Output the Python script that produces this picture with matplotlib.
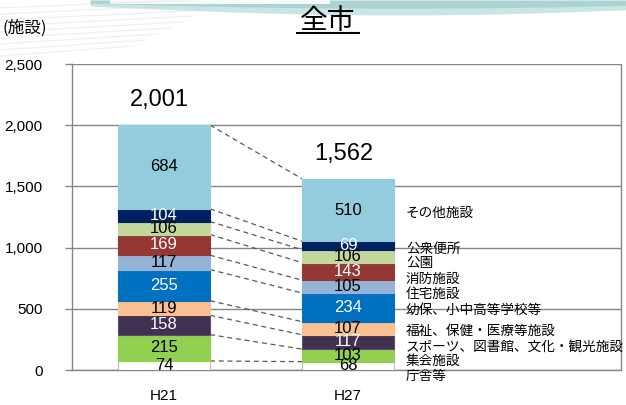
import numpy as np
import matplotlib.pyplot as plt

plt.rcParams['font.family'] = ['Noto Sans CJK JP', 'DejaVu Sans']

years = ['H21', 'H27']
categories = ['庁舎等', '集会施設', 'スポーツ、図書館、文化・観光施設', '福祉、保健・医療等施設',
              '幼保、小中高等学校等', '住宅施設', '消防施設', '公園', '公衆便所', 'その他施設']
h21 = [74, 215, 158, 119, 255, 117, 169, 106, 104, 684]
h27 = [68, 103, 117, 107, 234, 105, 143, 106, 69, 510]

colors = ['#FFFFFF', '#92D050', '#403151', '#FAC090', '#0070C0',
          '#95B3D7', '#953735', '#C3D69B', '#002060', '#93CDDD']
edges = ['#BFBFBF', '#92D050', '#5F497A', '#FAC090', '#0070C0',
         '#95B3D7', '#953735', '#C3D69B', '#002060', '#93CDDD']
text_colors = ['black', 'black', 'white', 'black', 'white',
               'black', 'white', 'black', 'white', 'black']

fig = plt.figure(figsize=(6.26, 4.05), dpi=100)

# decorative header swoosh
bg = fig.add_axes([0, 0, 1, 1], zorder=-1)
bg.set_xlim(0, 626)
bg.set_ylim(405, 0)
bg.axis('off')
xs = np.linspace(90, 626, 200)
band = 6 + 9 * np.sin(np.pi * (xs - 90) / 620)
bg.fill_between(xs, 0, band, color='#4FA9A6', alpha=0.3, lw=0)
bg.fill_between(xs, 0, band * 0.55, color='#2E8E8C', alpha=0.2, lw=0)
bg.fill_between(np.linspace(110, 330, 50), 0, 4, color='white', alpha=0.9, lw=0)
for k in range(9):
    y0 = 8 + k * 6
    bg.plot([0, 230 - k * 12], [y0, y0 - 10], color='#D0D0D0', lw=1.0, alpha=0.3)

ax = fig.add_axes([72 / 626, 35 / 405, 549 / 626, 306 / 405])
ax.set_facecolor('white')

xpos = [1, 3]
width = 1.0
data = np.array([h21, h27])
bottoms = np.zeros(2)
tops = []
for i, cat in enumerate(categories):
    vals = data[:, i]
    ax.bar(xpos, vals, width, bottom=bottoms, color=colors[i],
           edgecolor=edges[i], linewidth=0.8, zorder=3)
    for x, v, b in zip(xpos, vals, bottoms):
        ax.text(x, b + v / 2, str(v), ha='center', va='center',
                fontsize=12, color=text_colors[i], family=['Liberation Sans'], zorder=5)
    bottoms = bottoms + vals
    tops.append(bottoms.copy())

# dashed connectors between segment tops
for t in tops:
    ax.plot([xpos[0] + width / 2, xpos[1] - width / 2], [t[0], t[1]],
            ls=(0, (4, 3)), color='#595959', lw=0.9, zorder=2)

# totals above the bars
for x, total in zip(xpos, bottoms):
    ax.annotate(f'{int(total):,}', (x, total), xytext=(-3, 18),
                textcoords='offset points', ha='center', va='center',
                fontsize=17, family=['Liberation Sans'])

# category names beside the H27 bar, pushed down so they don't pile up
px = 306 / 2500
cum = np.cumsum([0] + h27)
mids = (cum[:-1] + cum[1:]) / 2
ys = [None] * len(categories)
y_prev = None
for i in range(len(categories) - 1, -1, -1):
    y = mids[i] - 3 / px
    if y_prev is not None:
        y = min(y, y_prev - 15 / px)
    ys[i] = y
    y_prev = y
for name, y in zip(categories, ys):
    ax.text(3.63, y, name, ha='left', va='center', fontsize=9.8,
            zorder=6, clip_on=False)

ax.set_xlim(0, 549 / 92)
ax.set_ylim(0, 2500)
ax.set_yticks(range(0, 2501, 500))
ax.set_yticklabels([f'{v:,}' for v in range(0, 2501, 500)],
                   family=['Liberation Sans'], fontsize=11)
ax.set_xticks(xpos)
ax.set_xticklabels(years, fontsize=11, family=['Liberation Sans'])
ax.tick_params(axis='x', length=0, pad=14)
ax.tick_params(axis='y', length=5, width=1, color='#868686', pad=16)
ax.yaxis.grid(True, color='#868686', lw=1, zorder=0)
ax.set_axisbelow(True)
for side in ['left', 'bottom', 'right', 'top']:
    ax.spines[side].set_color('#868686')
    ax.spines[side].set_linewidth(1)
ax.spines['top'].set_visible(False)

fig.text(2 / 626, 1 - 28 / 405, '(施設)', fontsize=12, ha='left', va='center')
fig.text(328 / 626, 1 - 21 / 405, '全市', fontsize=20, ha='center', va='center')
fig.add_artist(plt.Line2D([297 / 626, 359 / 626], [1 - 33 / 405, 1 - 33 / 405],
                          color='black', lw=1.5))

fig.savefig('out.png', dpi=100)
